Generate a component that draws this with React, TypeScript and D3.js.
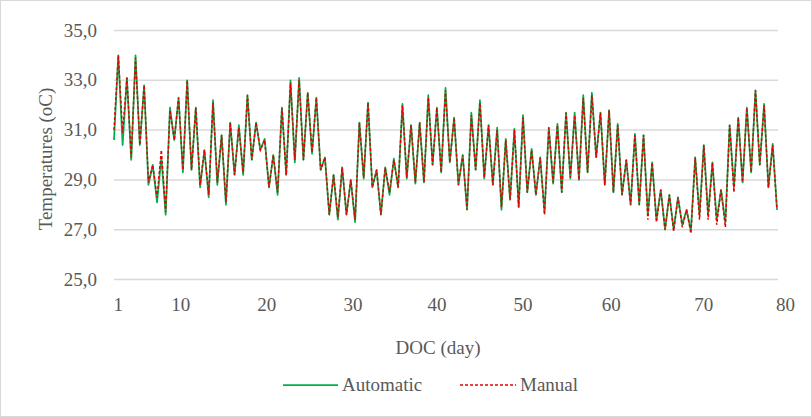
import React, { useEffect, useRef } from "react";
import * as d3 from "d3";

// temperature readings (oC)
const automatic = [
  30.6, 34.0, 30.4, 33.1, 29.8, 34.0, 30.4, 32.8, 28.8, 29.6, 28.1, 29.9, 27.6, 31.9, 30.6, 32.3, 29.3, 33.0, 29.4, 31.9, 28.7, 30.2, 28.3,
  32.2, 28.8, 30.8, 28.0, 31.3, 29.2, 31.2, 29.2, 32.4, 29.8, 31.3, 30.2, 30.65, 28.7, 30.0, 28.4, 31.9, 29.2, 33.0, 29.7, 33.1,
  29.8, 32.5, 30.05, 32.3, 29.4, 29.9, 27.6, 29.2, 27.4, 29.5, 27.6, 29.0, 27.3, 31.3, 29.05, 32.1, 28.7, 29.4, 27.6, 29.5, 28.4, 29.85, 28.7, 32.05,
  29.05, 31.2, 28.85, 31.3, 28.9, 32.4, 29.6, 31.9, 29.3, 32.7, 29.7, 31.5, 28.8, 30.0, 27.8, 31.7, 29.4, 32.2, 29.05, 31.2, 28.8,
  31.1, 27.8, 30.65, 28.2, 31.05, 27.9, 31.6, 28.5, 30.25, 28.4, 29.9, 27.7, 31.1, 28.85, 31.25, 28.5, 31.7, 29.05, 31.7, 29.0, 32.4,
  29.3, 32.5, 29.9, 31.7, 28.8, 31.8, 28.5, 31.25, 28.4, 29.8, 28.0, 30.85, 28.0, 30.8, 27.6, 29.7, 27.4, 28.6, 27.0, 28.4, 27.0, 28.3,
  27.2, 27.8, 26.95, 29.9, 27.6, 30.4, 27.6, 29.7, 27.4, 28.6, 27.3, 31.2, 28.7, 31.5, 28.9, 31.9, 29.3, 32.6, 29.6, 32.05, 28.7, 30.45, 27.8,
];

const manual = [
  31.0, 34.0, 30.9, 33.1, 29.9, 33.9, 30.4, 32.8, 28.9, 29.6, 28.3, 30.2, 27.7, 31.8, 30.6, 32.3, 29.4, 33.0, 29.4, 31.9, 28.8, 30.2, 28.4,
  32.1, 28.9, 30.8, 28.1, 31.3, 29.2, 31.1, 29.3, 32.4, 29.8, 31.3, 30.2, 30.6, 28.7, 30.0, 28.5, 31.9, 29.2, 32.9, 29.8, 33.0,
  29.8, 32.5, 30.1, 32.3, 29.4, 29.9, 27.6, 29.2, 27.5, 29.5, 27.6, 29.0, 27.4, 31.3, 29.1, 32.1, 28.7, 29.4, 27.6, 29.5, 28.5, 29.8, 28.7, 32.0,
  29.1, 31.2, 28.9, 31.3, 28.9, 32.3, 29.6, 31.9, 29.3, 32.6, 29.7, 31.5, 28.8, 30.0, 27.8, 31.6, 29.4, 32.1, 29.1, 31.2, 28.8,
  31.0, 27.9, 30.6, 28.2, 31.0, 27.9, 31.5, 28.5, 30.2, 28.4, 29.9, 27.6, 31.1, 28.9, 31.2, 28.5, 31.7, 29.1, 31.6, 29.0, 32.3,
  29.3, 32.4, 29.9, 31.7, 28.8, 31.8, 28.5, 31.2, 28.4, 29.8, 28.0, 30.8, 28.0, 30.8, 27.4, 29.7, 27.3, 28.6, 27.0, 28.4, 26.95, 28.3,
  27.1, 27.8, 26.85, 29.9, 27.4, 30.4, 27.4, 29.7, 27.2, 28.6, 27.1, 31.2, 28.5, 31.5, 28.9, 31.9, 29.3, 32.6, 29.6, 32.0, 28.7, 30.4, 27.8,
];

const yTicks = [25, 27, 29, 31, 33, 35];
const xTickLabels = ["1", "10", "20", "30", "40", "50", "60", "70", "80"];
// sample index where each DOC label sits on the category axis
const xTickAt = [1, 15.5, 35.5, 55.5, 75, 95, 115.5, 137, 156];

const W = 812;
const H = 417;
const font = "'Liberation Serif', 'Times New Roman', serif";

export default function App() {
  const ref = useRef<SVGSVGElement>(null);

  useEffect(() => {
    const svg = d3.select(ref.current);
    svg.selectAll("*").remove();

    svg.append("rect")
      .attr("x", 0.5).attr("y", 0.5)
      .attr("width", W - 1).attr("height", H - 1)
      .attr("fill", "#fff")
      .attr("stroke", "#d9d9d9");

    const x = d3.scaleLinear().domain([0, automatic.length - 1]).range([114, 777]);
    const y = d3.scaleLinear().domain([25, 35]).range([279.5, 30.5]);

    // gridlines + y labels
    svg.append("g")
      .selectAll("line")
      .data(yTicks)
      .enter()
      .append("line")
      .attr("x1", 114).attr("x2", 778)
      .attr("y1", d => y(d)).attr("y2", d => y(d))
      .attr("stroke", "#d9d9d9")
      .attr("stroke-width", 1.5);

    svg.append("g")
      .selectAll("text")
      .data(yTicks)
      .enter()
      .append("text")
      .attr("x", 97)
      .attr("y", d => y(d) + 6)
      .attr("text-anchor", "end")
      .style("font-family", font)
      .style("font-size", "19px")
      .attr("fill", "#595959")
      .text(d => d.toFixed(1).replace(".", ","));

    // x labels
    svg.append("g")
      .selectAll("text")
      .data(xTickLabels)
      .enter()
      .append("text")
      .attr("x", (d, i) => x(xTickAt[i]))
      .attr("y", 311)
      .attr("text-anchor", "middle")
      .style("font-family", font)
      .style("font-size", "19px")
      .attr("fill", "#595959")
      .text(d => d);

    const line = d3.line<number>()
      .x((d, i) => x(i))
      .y(d => y(d));

    svg.append("path")
      .attr("d", line(automatic))
      .attr("fill", "none")
      .attr("stroke", "#00b050")
      .attr("stroke-width", 1.75)
      .attr("stroke-linejoin", "round");

    svg.append("path")
      .attr("d", line(manual))
      .attr("fill", "none")
      .attr("stroke", "#e60000")
      .attr("stroke-width", 1.5)
      .attr("stroke-dasharray", "3,2");

    // axis titles
    svg.append("text")
      .attr("x", 438).attr("y", 354)
      .attr("text-anchor", "middle")
      .style("font-family", font)
      .style("font-size", "19px")
      .attr("fill", "#595959")
      .text("DOC (day)");

    svg.append("text")
      .attr("transform", "translate(52,159) rotate(-90)")
      .attr("text-anchor", "middle")
      .style("font-family", font)
      .style("font-size", "19px")
      .attr("fill", "#595959")
      .text("Temperatures (oC)");

    // legend
    const leg = svg.append("g");
    leg.append("line")
      .attr("x1", 283).attr("x2", 338).attr("y1", 385).attr("y2", 385)
      .attr("stroke", "#00b050").attr("stroke-width", 1.75);
    leg.append("text")
      .attr("x", 342).attr("y", 391)
      .style("font-family", font).style("font-size", "19px")
      .attr("fill", "#595959")
      .text("Automatic");
    leg.append("line")
      .attr("x1", 460).attr("x2", 516).attr("y1", 385).attr("y2", 385)
      .attr("stroke", "#e60000").attr("stroke-width", 1.5)
      .attr("stroke-dasharray", "3,2");
    leg.append("text")
      .attr("x", 520).attr("y", 391)
      .style("font-family", font).style("font-size", "19px")
      .attr("fill", "#595959")
      .text("Manual");
  }, []);

  return (
    <svg
      ref={ref}
      width={W}
      height={H}
      style={{ position: "absolute", left: 0, top: 0, display: "block" }}
    />
  );
}
